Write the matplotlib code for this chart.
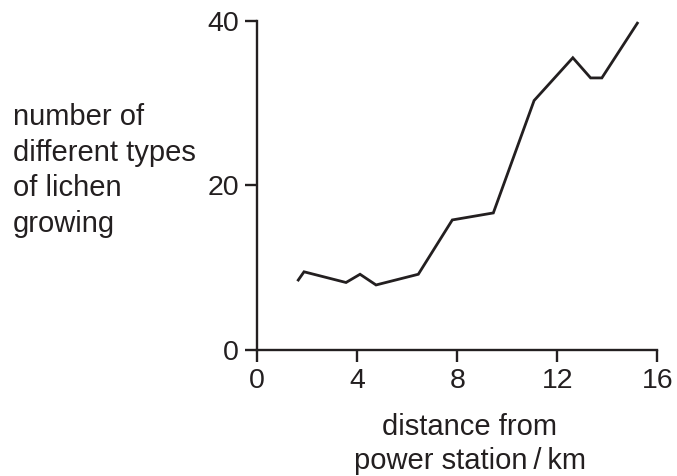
import matplotlib
matplotlib.use("Agg")
import matplotlib.pyplot as plt

plt.rcParams['font.family'] = ['Liberation Sans', 'DejaVu Sans']

# distance from power station / km, number of lichen types
distance = [1.64, 1.87, 3.55, 4.11, 4.75, 6.44, 7.8, 9.44, 11.07, 12.62, 13.33, 13.78, 15.2]
lichen = [8.5, 9.5, 8.2, 9.2, 7.9, 9.2, 15.8, 16.65, 30.3, 35.5, 33.05, 33.05, 39.7]

x_ticks = [0, 4, 8, 12, 16]
y_ticks = [0, 20, 40]

fig = plt.figure(figsize=(6.77, 4.76), dpi=100)
ax = fig.add_axes([0.380, 0.2647, 0.591, 0.6918])

ax.plot(distance, lichen, color='#231f20', linewidth=2.0, solid_joinstyle='miter')

ax.set_xlim(0, 16)
ax.set_ylim(0, 40)
ax.set_xticks(x_ticks)
ax.set_yticks(y_ticks)

for s in ['top', 'right']:
    ax.spines[s].set_visible(False)
for s in ['left', 'bottom']:
    ax.spines[s].set_linewidth(1.7)
    ax.spines[s].set_color('#231f20')

ax.tick_params(axis='both', direction='out', length=8.5, width=1.7, color='#231f20',
               labelsize=20.5, labelcolor='#231f20', pad=4.5)

fig.text(0.019, 0.784, "number of\ndifferent types\nof lichen\ngrowing", ha='left', va='top',
         fontsize=21, color='#231f20', linespacing=1.35)
fig.text(0.694, 0.133, "distance from\npower station\u2009/\u2009km", ha='center', va='top',
         fontsize=21, color='#231f20', linespacing=1.28)

fig.savefig('out.png', dpi=100)
